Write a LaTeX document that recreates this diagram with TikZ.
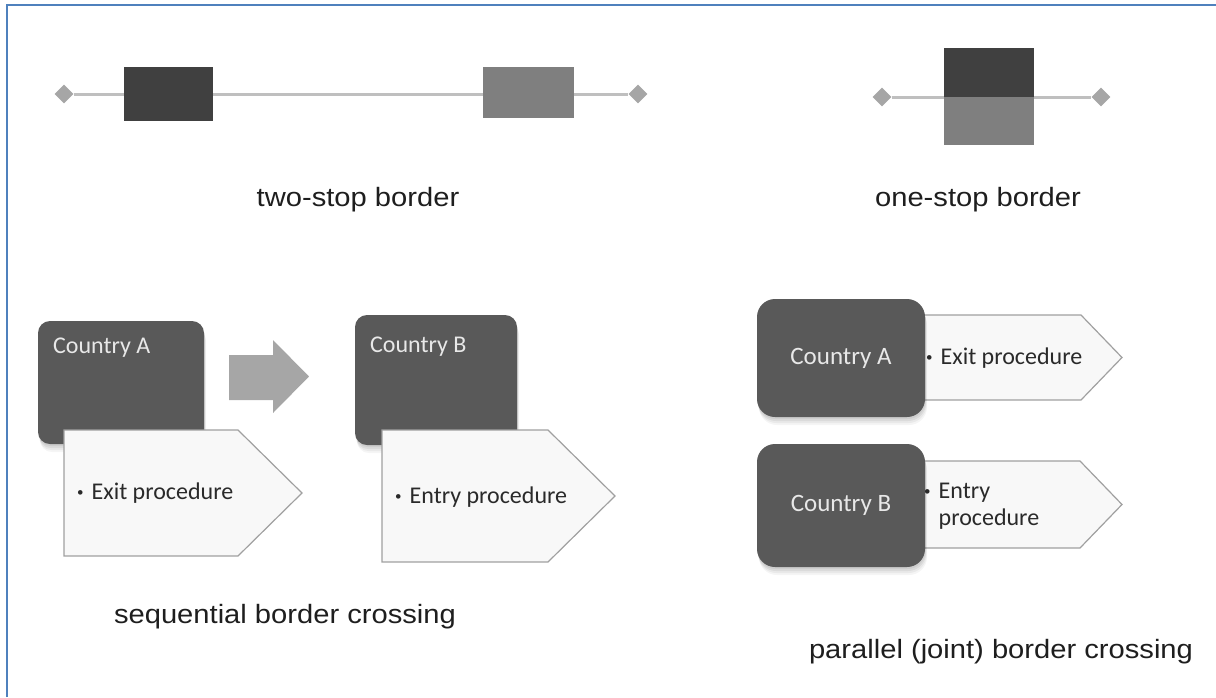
\documentclass[tikz,border=0pt]{standalone}
\usepackage{fontspec}
\setmainfont{Liberation Sans}
\newfontfamily\capfont[FakeStretch=1.1]{Liberation Sans}
\newfontfamily\boxfont{Carlito}
\usetikzlibrary{shapes.geometric}

\definecolor{framebl}{HTML}{4F81BD}
\definecolor{stopdark}{HTML}{404040}
\definecolor{stopgray}{HTML}{7F7F7F}
\definecolor{railgray}{HTML}{BFBFBF}
\definecolor{knobgray}{HTML}{A6A6A6}
\definecolor{countryfill}{HTML}{595959}
\definecolor{countrytext}{HTML}{E8E8E8}
\definecolor{procfill}{HTML}{F8F8F8}
\definecolor{procline}{HTML}{A0A0A0}
\definecolor{captext}{HTML}{1E1E1E}
\definecolor{proctext}{HTML}{2A2A2A}

\pgfdeclarelayer{bg}
\pgfsetlayers{bg,main}

\newcommand{\bul}{\raisebox{3pt}{\fontsize{13}{13}\selectfont\textbullet}\hspace{8pt}}

\tikzset{
  knob/.style={diamond, fill=knobgray, inner sep=0pt, minimum width=19pt, minimum height=19pt},
  rail/.style={draw=railgray, line width=3pt},
  stopbox/.style={inner sep=0pt},
  caption/.style={font=\capfont\fontsize{26.5}{30}\selectfont, text=captext, inner sep=0pt},
  ctylabel/.style={font=\boxfont\fontsize{24}{28}\selectfont, text=countrytext, inner sep=0pt},
  proclabel/.style={font=\boxfont\fontsize{24}{27}\selectfont, text=proctext, inner sep=0pt, align=left},
  softshadow/.style={
    preaction={fill=black, opacity=.06, transform canvas={yshift=-2pt, xshift=.5pt}},
    preaction={fill=black, opacity=.06, transform canvas={yshift=-4pt, xshift=1pt}},
    preaction={fill=black, opacity=.05, transform canvas={yshift=-6pt, xshift=1.5pt}},
    preaction={fill=black, opacity=.04, transform canvas={yshift=-8pt, xshift=2pt}}},
  country/.style={fill=countryfill, inner sep=0pt, softshadow},
  procbox/.style={fill=procfill, draw=procline, line width=1.2pt, line join=miter},
  flowarrow/.style={fill=knobgray},
}

\begin{document}
\begin{tikzpicture}[x=1pt, y=-1pt]
\useasboundingbox (0,0) rectangle (1216,697);

% frame edges
\draw[framebl, line width=2.5pt] (7,697) -- (7,5) -- (1216,5);

% ---------- two-stop border ----------
\node[knob] (tsL) at (64,94) {};
\node[knob] (tsR) at (638,94) {};
\node[stopbox, fill=stopdark, minimum width=89pt, minimum height=54pt] (tsExit) at (168.5,94) {};
\node[stopbox, fill=stopgray, minimum width=91pt, minimum height=51pt] (tsEntry) at (528.5,92.5) {};
\begin{pgfonlayer}{bg}
  \draw[rail] (tsL) -- (tsR);
\end{pgfonlayer}
\node[caption] (tsCap) at (358,200) {two-stop border};

% ---------- one-stop border ----------
\node[knob] (osL) at (882,97) {};
\node[knob] (osR) at (1101,97) {};
\node[stopbox, fill=stopdark, minimum width=90pt, minimum height=49pt] (osExit) at (989,72.5) {};
\node[stopbox, fill=stopgray, minimum width=90pt, minimum height=48pt] (osEntry) at (989,121) {};
\begin{pgfonlayer}{bg}
  \draw[rail] (osL) -- (osR);
\end{pgfonlayer}
\node[caption] (osCap) at (978,200) {one-stop border};

% ---------- sequential border crossing ----------
\node[country, rounded corners=12pt, minimum width=166pt, minimum height=123pt] (seqA) at (121,382.5) {};
\node[ctylabel, anchor=base west] (seqAlab) at (53,353) {Country A};
\path[flowarrow] (229,355) -- (273,355) -- (273,340) -- (309,376.5) -- (273,413) -- (273,400) -- (229,400) -- cycle;
\node[country, rounded corners=12pt, minimum width=162pt, minimum height=130pt] (seqB) at (436,380) {};
\node[ctylabel, anchor=base west] (seqBlab) at (370,352) {Country B};

\path[procbox] (64,430) -- (238,430) -- (302,493) -- (238,556) -- (64,556) -- cycle;
\node[proclabel, anchor=west] (seqExit) at (77,493) {\bul Exit procedure};
\path[procbox] (382,430) -- (548,430) -- (615,496) -- (548,562) -- (382,562) -- cycle;
\node[proclabel, anchor=west] (seqEntry) at (395,497) {\bul Entry procedure};

\node[caption] (seqCap) at (285,617) {sequential border crossing};

% ---------- parallel (joint) border crossing ----------
\path[procbox] (880,315) -- (1081,315) -- (1122,357.5) -- (1081,400) -- (880,400) -- cycle;
\path[procbox] (880,461) -- (1080,461) -- (1122,504.5) -- (1080,548) -- (880,548) -- cycle;
\node[country, rounded corners=18pt, minimum width=168pt, minimum height=118pt,
      font=\boxfont\fontsize{25}{28}\selectfont, text=countrytext] (parA) at (841,358) {Country A};
\node[country, rounded corners=18pt, minimum width=168pt, minimum height=123pt,
      font=\boxfont\fontsize{25}{28}\selectfont, text=countrytext] (parB) at (841,505.5) {Country B};
\node[proclabel, anchor=west] (parExit) at (926,358) {\bul Exit procedure};
\node[proclabel, anchor=west] (parEntry) at (924,506) {\bul Entry\\\hphantom{\bul}procedure};

\node[caption] (parCap) at (1001,652) {parallel (joint) border crossing};
\end{tikzpicture}
\end{document}
